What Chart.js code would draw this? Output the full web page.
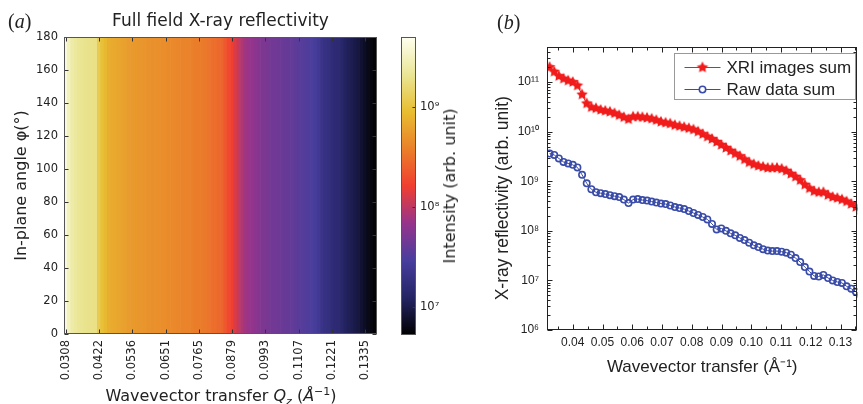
<!DOCTYPE html>
<html>
<head>
<meta charset="utf-8">
<script src="https://cdn.jsdelivr.net/npm/chart.js@4.4.1/dist/chart.umd.min.js"></script>
<style>
  body { margin: 0; background: #fff; }
  #wrap { position: relative; width: 863px; height: 404px; overflow: hidden; }
  canvas { position: absolute; top: 0; }
  .txt { position: absolute; white-space: nowrap; color: #222; line-height: 20px; }
  .serif { font-family: "Liberation Serif", "DejaVu Serif", serif; font-size: 20px; }
  .mpl { font-family: "DejaVu Sans", sans-serif; font-size: 16px; }
</style>
</head>
<body>
<div id="wrap">
  <canvas id="heat" width="390" height="404" style="left:0"></canvas>
  <canvas id="cbar" width="60" height="404" style="left:395px"></canvas>
  <canvas id="curves" width="373" height="404" style="left:490px"></canvas>

  <div class="txt serif" style="left:8px; top:11px;">(<i>a</i>)</div>
  <div class="txt serif" style="left:497px; top:12px;">(<i>b</i>)</div>
  <div class="txt mpl" style="left:0; width:442px; text-align:center; top:382px;">Wavevector transfer <i>Q<sub style="font-size:11px">z</sub></i> (<i>Å</i><sup style="font-size:11px">−1</sup>)</div>
  <div class="txt mpl" style="left:450px; top:186px; transform:translate(-50%,-50%) rotate(-90deg);">Intensity (arb. unit)</div>
</div>

<script>
const heatIntensity = [
  4.15e9, 3.16e9, 2.56e9, 2.31e9, 2.16e9, 2.09e9, 2.01e9, 1.97e9, 1.92e9, 1.88e9,
  1.20e9, 9.8e8, 8.5e8, 7.4e8, 6.9e8, 6.7e8, 6.5e8, 6.2e8, 6.0e8, 5.6e8,
  5.55e8, 5.45e8, 5.3e8, 5.2e8, 5.1e8, 4.9e8, 4.8e8, 4.9e8, 4.75e8, 4.65e8,
  4.6e8, 4.5e8, 4.4e8, 4.3e8, 4.2e8, 4.1e8, 4.05e8, 4.0e8, 3.9e8, 3.7e8,
  3.65e8, 3.55e8, 3.5e8, 3.35e8, 3.1e8, 3.0e8, 2.8e8, 2.7e8, 2.3e8, 1.87e8,
  1.63e8, 1.32e8, 1.08e8, 8.8e7, 7.6e7, 7.1e7, 6.7e7, 6.2e7, 5.8e7, 5.3e7,
  5.05e7, 4.9e7, 4.7e7, 4.55e7, 4.4e7, 4.25e7, 4.1e7, 4.0e7, 3.9e7, 3.7e7,
  3.5e7, 3.4e7, 3.3e7, 3.16e7, 3.0e7, 2.8e7, 2.5e7, 2.1e7, 1.92e7, 1.8e7,
  1.62e7, 1.57e7, 1.51e7, 1.36e7, 1.19e7, 1.11e7, 1.04e7, 9.7e6, 9.0e6, 7.9e6,
  7.1e6, 6.4e6, 5.8e6, 5.4e6
];
const heatTickLabels = ['0.0308', '0.0422', '0.0536', '0.0651', '0.0765',
                        '0.0879', '0.0993', '0.1107', '0.1221', '0.1335'];
const phiRange = [0, 180];
const cbRange = [5.2e6, 5.1e9];
const cbTicks = [1e7, 1e8, 1e9];

// ---- panel (b): summed reflectivity curves
const qz = [
  0.03220, 0.03376, 0.03532, 0.03688, 0.03844, 0.04000, 0.04156, 0.04312, 0.04468, 0.04624,
  0.04780, 0.04936, 0.05092, 0.05248, 0.05404, 0.05560, 0.05716, 0.05872, 0.06028, 0.06184,
  0.06340, 0.06496, 0.06652, 0.06808, 0.06964, 0.07120, 0.07276, 0.07432, 0.07588, 0.07744,
  0.07900, 0.08056, 0.08212, 0.08368, 0.08524, 0.08680, 0.08836, 0.08992, 0.09148, 0.09304,
  0.09460, 0.09616, 0.09772, 0.09928, 0.10084, 0.10240, 0.10396, 0.10552, 0.10708, 0.10864,
  0.11020, 0.11176, 0.11332, 0.11488, 0.11644, 0.11800, 0.11956, 0.12112, 0.12268, 0.12424,
  0.12580, 0.12736, 0.12892, 0.13048, 0.13204, 0.13360, 0.13516, 0.13672
];
const xriSum = [
  2.0e11, 1.62e11, 1.32e11, 1.17e11, 1.07e11, 1.0e11, 8.5e10, 5.6e10, 3.7e10, 3.1e10,
  2.95e10, 2.75e10, 2.63e10, 2.51e10, 2.34e10, 2.14e10, 1.95e10, 1.78e10, 2.0e10, 2.0e10,
  1.95e10, 1.9e10, 1.82e10, 1.7e10, 1.58e10, 1.51e10, 1.45e10, 1.35e10, 1.29e10, 1.23e10,
  1.17e10, 1.1e10, 1.0e10, 8.9e9, 7.9e9, 7.1e9, 6.2e9, 5.4e9, 4.7e9, 4.1e9,
  3.6e9, 3.2e9, 2.75e9, 2.4e9, 2.19e9, 2.04e9, 1.95e9, 1.86e9, 1.86e9, 1.86e9,
  1.78e9, 1.62e9, 1.41e9, 1.23e9, 1.05e9, 8.5e8, 7.2e8, 6.3e8, 6.0e8, 6.0e8,
  5.25e8, 4.8e8, 4.57e8, 4.27e8, 3.9e8, 3.47e8, 3.02e8, 2.63e8
];
const rawSum = [
  3.63e9, 3.39e9, 2.88e9, 2.45e9, 2.29e9, 2.14e9, 1.9e9, 1.35e9, 9.1e8, 6.9e8,
  6.0e8, 5.75e8, 5.5e8, 5.25e8, 5.0e8, 4.8e8, 4.27e8, 3.63e8, 4.27e8, 4.37e8,
  4.17e8, 4.07e8, 3.89e8, 3.72e8, 3.55e8, 3.47e8, 3.24e8, 3.02e8, 2.88e8, 2.75e8,
  2.51e8, 2.29e8, 2.09e8, 1.9e8, 1.7e8, 1.38e8, 1.07e8, 1.12e8, 1.0e8, 8.9e7,
  8.1e7, 7.2e7, 6.5e7, 5.75e7, 5.1e7, 4.7e7, 4.27e7, 4.0e7, 3.9e7, 3.9e7,
  3.8e7, 3.63e7, 3.31e7, 2.82e7, 2.34e7, 1.86e7, 1.51e7, 1.23e7, 1.2e7, 1.29e7,
  1.12e7, 1.0e7, 9.3e6, 8.9e6, 7.6e6, 6.8e6, 5.9e6, 5.1e6
];
const xTicksB = [0.04, 0.05, 0.06, 0.07, 0.08, 0.09, 0.10, 0.11, 0.12, 0.13];
const yTicksB = [1e6, 1e7, 1e8, 1e9, 1e10, 1e11];

// CMRmap-like colour table, as it looks in the printed figure
const CMR = [[0, 0, 0], [36, 36, 100], [72, 62, 158], [150, 52, 140], [240, 62, 48],
             [234, 128, 42], [232, 190, 48], [234, 230, 150], [255, 255, 240]];
function cmr(t) {
    t = Math.min(1, Math.max(0, t)) * 8;
    const i = Math.min(7, Math.floor(t)), f = t - i;
    const a = CMR[i], b = CMR[i + 1];
    return 'rgb(' + a.map((c, k) => Math.round(c + (b[k] - c) * f)).join(',') + ')';
}
const lmin = Math.log10(cbRange[0]), lmax = Math.log10(cbRange[1]);
const frac = v => (Math.log10(v) - lmin) / (lmax - lmin);

const SUP = {'0': '⁰', '1': '¹', '2': '²', '3': '³', '4': '⁴', '5': '⁵', '6': '⁶', '7': '⁷', '8': '⁸', '9': '⁹'};
const pow10Label = v => '10' + String(Math.round(Math.log10(v))).split('').map(c => SUP[c]).join('');

Chart.defaults.color = '#222';
const mplFont = { family: 'DejaVu Sans', size: 11.5 };
const arialFont = { family: 'Liberation Sans', size: 12 };
const noGrid = { display: false, drawTicks: false };

// frame + inward ticks drawn on the plot border
function framePlugin(cfg) {
    return {
        id: 'frame',
        afterDraw(chart) {
            const { ctx, chartArea: a, scales } = chart;
            const L = Math.round(a.left) + 0.5, R = Math.round(a.right) - 0.5;
            const T = Math.round(a.top) + 0.5, B = Math.round(a.bottom) - 0.5;
            ctx.save();
            ctx.strokeStyle = cfg.color;
            ctx.lineWidth = 1;
            ctx.beginPath();
            (cfg.x ? cfg.x(scales.x) : []).forEach(([p, len]) => {
                const x = Math.round(p) + 0.5;
                ctx.moveTo(x, B); ctx.lineTo(x, B - len);
                ctx.moveTo(x, T); ctx.lineTo(x, T + len);
            });
            (cfg.y ? cfg.y(scales.y) : []).forEach(([p, len]) => {
                const y = Math.round(p) + 0.5;
                if (cfg.left !== false) { ctx.moveTo(L, y); ctx.lineTo(L + len, y); }
                ctx.moveTo(R, y); ctx.lineTo(R - len, y);
            });
            ctx.stroke();
            ctx.strokeStyle = cfg.border || cfg.color;
            ctx.strokeRect(L, T, R - L, B - T);
            ctx.restore();
        }
    };
}

// ---------------- panel (a) heat map
new Chart(document.getElementById('heat'), {
    type: 'bar',
    data: {
        labels: heatIntensity.map((_, i) => i),
        datasets: [{
            data: heatIntensity.map(() => phiRange),
            backgroundColor: heatIntensity.map(v => cmr(frac(v))),
            borderWidth: 0,
            barPercentage: 1,
            categoryPercentage: 1
        }]
    },
    options: {
        responsive: false,
        animation: false,
        events: [],
        layout: { padding: { left: 0, right: 13, top: 0, bottom: 0 } },
        plugins: {
            legend: { display: false },
            tooltip: { enabled: false },
            title: {
                display: true,
                text: 'Full field X-ray reflectivity',
                fullSize: false,
                color: '#222',
                font: { family: 'DejaVu Sans', size: 17, weight: 'normal' },
                padding: { top: 11, bottom: 5.6 }
            }
        },
        scales: {
            x: {
                grid: noGrid,
                border: { display: false },
                afterFit: s => { s.height = 70; },
                afterBuildTicks: s => { s.ticks = s.ticks.filter(t => t.value % 10 === 0); },
                ticks: {
                    autoSkip: false, minRotation: 90, maxRotation: 90, padding: 6,
                    font: mplFont,
                    callback: v => heatTickLabels[v / 10]
                }
            },
            y: {
                min: phiRange[0], max: phiRange[1],
                grid: noGrid,
                border: { display: false },
                afterFit: s => { s.width = 64; },
                ticks: { stepSize: 20, padding: 6, font: mplFont },
                title: {
                    display: true, text: 'In-plane angle φ(°)',
                    font: { family: 'DejaVu Sans', size: 16 }, padding: { top: 12 }
                }
            }
        }
    },
    plugins: [framePlugin({
        color: '#333', border: '#555',
        x: s => s.ticks.map((t, i) => [s.getPixelForTick(i), 4]),
        y: s => s.ticks.map((t, i) => [s.getPixelForTick(i), 4])
    })]
});

// ---------------- colour bar
new Chart(document.getElementById('cbar'), {
    type: 'bar',
    data: {
        labels: [''],
        datasets: [{
            data: [cbRange],
            barPercentage: 1,
            categoryPercentage: 1,
            borderWidth: 0,
            backgroundColor: c => {
                const area = c.chart.chartArea;
                if (!area) return 'transparent';
                const g = c.chart.ctx.createLinearGradient(0, area.bottom, 0, area.top);
                CMR.forEach((col, k) => g.addColorStop(k / 8, 'rgb(' + col.join(',') + ')'));
                return g;
            }
        }]
    },
    options: {
        responsive: false,
        animation: false,
        events: [],
        layout: { padding: { left: 6, right: 0, top: 37, bottom: 69 } },
        plugins: { legend: { display: false }, tooltip: { enabled: false } },
        scales: {
            x: { display: false },
            y: {
                type: 'logarithmic', position: 'right',
                min: cbRange[0], max: cbRange[1],
                grid: noGrid,
                border: { display: false },
                afterFit: s => { s.width = 39; },
                afterBuildTicks: s => { s.ticks = cbTicks.map(v => ({ value: v })); },
                ticks: { padding: 4, font: mplFont, callback: v => pow10Label(v) }
            }
        }
    },
    plugins: [framePlugin({
        color: '#333', border: '#555', left: false,
        y: s => cbTicks.map(v => [s.getPixelForValue(v), 3])
    })]
});

// ---------------- panel (b) curves
function starCanvas(r, color) {
    const c = document.createElement('canvas');
    const s = Math.ceil(r * 2) + 2;
    c.width = c.height = s;
    const g = c.getContext('2d');
    g.fillStyle = color;
    g.beginPath();
    for (let k = 0; k < 10; k++) {
        const rad = k % 2 ? r * 0.5 : r;
        const ang = -Math.PI / 2 + k * Math.PI / 5;
        g.lineTo(s / 2 + rad * Math.cos(ang), s / 2 + rad * Math.sin(ang));
    }
    g.closePath();
    g.fill();
    return c;
}
const RED = '#f01c1c';
const BLUE = '#3a4ca8';
const star = starCanvas(6, RED);

const boxLegend = {
    id: 'boxLegend',
    afterDraw(chart) {
        const { ctx, chartArea: a } = chart;
        const w = 181, h = 46;
        const x0 = Math.round(a.right) - 2 - w + 0.5, y0 = Math.round(a.top) + 6 + 0.5;
        ctx.save();
        ctx.fillStyle = '#fff';
        ctx.fillRect(x0, y0, w, h);
        ctx.strokeStyle = '#999';
        ctx.lineWidth = 1;
        ctx.strokeRect(x0, y0, w, h);
        const rows = [
            { label: 'XRI images sum', color: RED, y: y0 + 14, marker: 'star' },
            { label: 'Raw data sum', color: BLUE, y: y0 + 36, marker: 'circle' }
        ];
        ctx.font = '17px "Liberation Sans"';
        ctx.textBaseline = 'middle';
        rows.forEach(r => {
            ctx.strokeStyle = r.color;
            ctx.beginPath();
            ctx.moveTo(x0 + 10, r.y); ctx.lineTo(x0 + 46, r.y);
            ctx.stroke();
            if (r.marker === 'star') {
                ctx.drawImage(star, x0 + 28 - star.width / 2, r.y - star.height / 2);
            } else {
                ctx.lineWidth = 1.6;
                ctx.beginPath();
                ctx.arc(x0 + 28, r.y, 3.2, 0, Math.PI * 2);
                ctx.fillStyle = '#fff';
                ctx.fill();
                ctx.stroke();
                ctx.lineWidth = 1;
            }
            ctx.fillStyle = '#222';
            ctx.fillText(r.label, x0 + 52, r.y + 1);
        });
        ctx.restore();
    }
};

const minorY = [];
yTicksB.forEach(d => { for (let m = 2; m <= 9; m++) minorY.push(d * m); });

new Chart(document.getElementById('curves'), {
    type: 'line',
    data: {
        datasets: [{
            label: 'XRI images sum',
            data: qz.map((x, i) => ({ x, y: xriSum[i] })),
            borderColor: RED,
            borderWidth: 1,
            pointStyle: star,
            clip: 0
        }, {
            label: 'Raw data sum',
            data: qz.map((x, i) => ({ x, y: rawSum[i] })),
            borderColor: BLUE,
            borderWidth: 1,
            pointStyle: 'circle',
            pointRadius: 3.2,
            pointBorderWidth: 1.6,
            pointBorderColor: BLUE,
            pointBackgroundColor: 'rgba(0,0,0,0)',
            clip: 0
        }]
    },
    options: {
        responsive: false,
        animation: false,
        events: [],
        layout: { padding: { left: 0, right: 3, top: 47, bottom: 0 } },
        plugins: { legend: { display: false }, tooltip: { enabled: false } },
        scales: {
            x: {
                type: 'linear', min: 0.03133, max: 0.13567,
                grid: noGrid,
                border: { display: false },
                afterFit: s => { s.height = 74; },
                afterBuildTicks: s => { s.ticks = xTicksB.map(v => ({ value: v })); },
                ticks: { padding: 5, font: arialFont, maxRotation: 0, callback: v => v.toFixed(2) },
                title: {
                    display: true, text: 'Wavevector transfer (Å⁻¹)',
                    font: { family: 'Liberation Sans', size: 17 }, padding: { bottom: 26 }
                }
            },
            y: {
                type: 'logarithmic', min: 1e6, max: 5.1e11,
                grid: noGrid,
                border: { display: false },
                afterFit: s => { s.width = 57; },
                afterBuildTicks: s => { s.ticks = yTicksB.map(v => ({ value: v })); },
                ticks: { padding: 8, font: arialFont, callback: v => pow10Label(v) },
                title: {
                    display: true, text: 'X-ray reflectivity (arb. unit)    ',
                    font: { family: 'Liberation Sans', size: 17.5 }, padding: { top: 3 }
                }
            }
        }
    },
    plugins: [framePlugin({
        color: '#222',
        x: s => xTicksB.map(v => [s.getPixelForValue(v), 5])
            .concat([0.035, 0.045, 0.055, 0.065, 0.075, 0.085, 0.095, 0.105, 0.115, 0.125, 0.135]
                .map(v => [s.getPixelForValue(v), 3])),
        y: s => yTicksB.map(v => [s.getPixelForValue(v), 5])
            .concat(minorY.filter(v => v < s.max).map(v => [s.getPixelForValue(v), 3]))
    }), boxLegend]
});
</script>
</body>
</html>
